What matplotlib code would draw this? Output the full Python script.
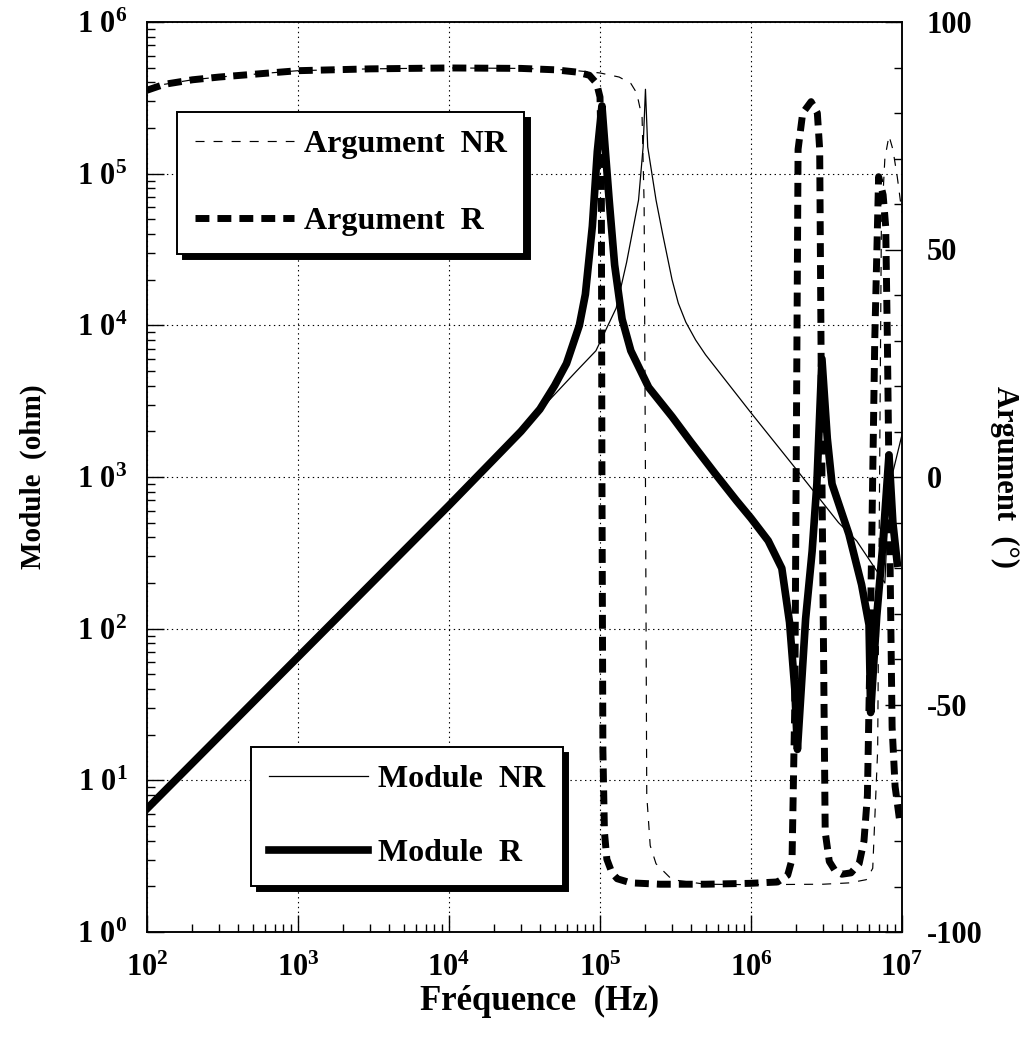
import numpy as np
import matplotlib
matplotlib.use('Agg')
import matplotlib.pyplot as plt
from matplotlib import ticker

plt.rcParams['font.family'] = 'Liberation Serif'
plt.rcParams['font.weight'] = 'bold'
plt.rcParams['axes.labelweight'] = 'bold'
plt.rcParams['mathtext.fontset'] = 'custom'
plt.rcParams['mathtext.rm'] = 'Liberation Serif:bold'
plt.rcParams['mathtext.bf'] = 'Liberation Serif:bold'
plt.rcParams['mathtext.default'] = 'bf'
plt.rcParams['axes.unicode_minus'] = False
plt.rcParams['lines.scale_dashes'] = False

# Module R (ohm) vs frequency (Hz)
mod_r_f = [1e2, 1e3, 1e4, 2e4, 3e4, 4e4, 5e4, 6e4, 7.3e4, 8e4, 8.9e4, 9.6e4,
           1.03e5, 1.08e5, 1.15e5, 1.25e5, 1.4e5, 1.6e5, 2.1e5, 3e5, 4e5,
           5.8e5, 8e5, 1e6, 1.3e6, 1.6e6, 1.8e6, 1.95e6, 2.03e6, 2.3e6,
           2.54e6, 2.73e6, 2.95e6, 3.2e6, 3.44e6, 4.45e6, 5.4e6, 6.05e6,
           6.2e6, 6.8e6, 7.4e6, 8.2e6, 8.7e6, 9.3e6]
mod_r = [6.5, 65, 650, 1320, 2000, 2800, 4000, 5600, 10000, 16000, 45000,
         140000, 280000, 150000, 67000, 25000, 11000, 6800, 3900, 2500, 1700,
         1050, 700, 535, 380, 250, 110, 40, 16, 116,
         324, 900, 6000, 1800, 900, 420, 195, 106,
         28, 120, 323, 1400, 500, 270]

# Module NR
mod_nr_f = [1e2, 1e3, 1e4, 2e4, 3e4, 4.6e4, 7e4, 9.4e4, 1.28e5, 1.5e5, 1.8e5,
            1.93e5, 2.0e5, 2.07e5, 2.35e5, 2.6e5, 3e5, 3.3e5, 3.7e5, 4.3e5,
            5e5, 1e6, 2e6, 3.8e6, 5e6, 6e6, 7e6, 7.7e6, 8.2e6, 1e7]
mod_nr = [6.5, 65, 650, 1310, 1960, 3200, 5000, 6800, 13000, 26000, 67000,
          150000, 360000, 150000, 67000, 40000, 20000, 14000, 10500, 8000,
          6400, 2650, 1120, 500, 380, 290, 230, 200, 845, 1900]

# Argument R (deg)
arg_r_f = [1e2, 1.3e2, 2e2, 3e2, 1e3, 3e3, 1e4, 3e4, 5e4, 7e4, 8.5e4, 9.5e4,
           1.0e5, 1.02e5, 1.03e5, 1.045e5, 1.07e5, 1.11e5, 1.2e5, 1.3e5,
           1.6e5, 2.5e5, 5e5, 1e6, 1.5e6, 1.75e6, 1.87e6, 1.95e6, 2.05e6,
           2.2e6, 2.5e6, 2.75e6, 2.85e6, 2.95e6, 3.1e6, 3.3e6, 3.6e6, 4e6,
           4.6e6, 5.2e6, 5.6e6, 5.9e6, 6.2e6, 6.6e6, 7.0e6, 7.5e6, 7.8e6,
           8.0e6, 8.2e6, 8.6e6, 9.0e6, 9.6e6]
arg_r = [85, 86.3, 87.3, 87.9, 89.3, 89.7, 89.9, 89.8, 89.5, 89, 88.3, 86.5,
         83.5, 70, 0, -60, -78, -84, -87, -88.3,
         -89.2, -89.5, -89.5, -89.3, -89, -87.5, -84, -50, 72,
         80, 82.5, 80, 72, 0, -78, -84.5, -86.5, -87.3,
         -87, -85, -80, -70, -30, 30, 66, 62, 55,
         30, 0, -55, -68, -75]

# Argument NR
arg_nr_f = [1e2, 1.3e2, 2e2, 3e2, 1e3, 3e3, 1e4, 3e4, 5e4, 7e4, 1e5, 1.34e5,
            1.6e5, 1.75e5, 1.9e5, 1.96e5, 2.0e5, 2.04e5, 2.15e5, 2.35e5, 3e5,
            5e5, 1e6, 3e6, 4.5e6, 5.8e6, 6.4e6, 6.9e6, 7.3e6, 7.7e6, 8.2e6,
            8.7e6, 9.3e6, 1e7]
arg_nr = [85, 86.3, 87.3, 87.9, 89.3, 89.7, 89.9, 89.8, 89.6, 89.3, 88.8, 87.9,
          86.5, 84.4, 79, 60, 0, -70, -81, -85, -88.5,
          -89.5, -89.6, -89.5, -89.2, -88.5, -86, -60, 55, 70, 75,
          72, 66, 58]

decade_labels = {0: '1 0$^{0}$', 1: '1 0$^{1}$', 2: '1 0$^{2}$', 3: '1 0$^{3}$',
                 4: '1 0$^{4}$', 5: '1 0$^{5}$', 6: '1 0$^{6}$'}

fig = plt.figure(figsize=(10.21, 10.37), dpi=100)
ax1 = fig.add_axes([147 / 1021, 1 - 932 / 1037, 755 / 1021, 910 / 1037])
ax2 = ax1.twinx()

l_mnr, = ax1.plot(mod_nr_f, mod_nr, color='k', lw=0.9)
l_mr, = ax1.plot(mod_r_f, mod_r, color='k', lw=5.5)
l_anr, = ax2.plot(arg_nr_f, arg_nr, color='k', lw=0.85, ls=(0, (6.5, 6.5)))
l_ar, = ax2.plot(arg_r_f, arg_r, color='k', lw=5, ls=(0, (10, 5.8)))

ax1.set_xscale('log')
ax1.set_yscale('log')
ax1.set_xlim(1e2, 1e7)
ax1.set_ylim(1, 1e6)
ax2.set_ylim(-100, 100)

ax1.xaxis.set_major_locator(ticker.LogLocator(base=10, numticks=10))
ax1.xaxis.set_minor_locator(ticker.LogLocator(base=10, subs=np.arange(2, 10), numticks=20))
ax1.yaxis.set_major_locator(ticker.LogLocator(base=10, numticks=10))
ax1.yaxis.set_minor_locator(ticker.LogLocator(base=10, subs=np.arange(2, 10), numticks=20))
ax1.xaxis.set_major_formatter(ticker.FuncFormatter(lambda v, p: '10$^{%d}$' % round(np.log10(v))))
ax1.xaxis.set_minor_formatter(ticker.NullFormatter())
ax1.yaxis.set_major_formatter(ticker.FuncFormatter(lambda v, p: decade_labels.get(round(np.log10(v)), '')))
ax1.yaxis.set_minor_formatter(ticker.NullFormatter())
ax2.yaxis.set_major_locator(ticker.MultipleLocator(50))
ax2.yaxis.set_minor_locator(ticker.MultipleLocator(10))
ax2.yaxis.set_major_formatter(ticker.FuncFormatter(lambda v, p: '%d' % v))

ax1.grid(which='major', axis='both', color='k', lw=0.8, ls=(0, (1, 2.5)))

for ax in (ax1, ax2):
    ax.tick_params(which='both', direction='in', width=1, labelsize=22)
    ax.tick_params(which='major', length=12)
    ax.tick_params(which='minor', length=6)
    for s in ax.spines.values():
        s.set_linewidth(1.1)
ax1.tick_params(axis='y', pad=14)
ax1.tick_params(axis='x', pad=16)
ax2.tick_params(axis='y', pad=18)

ax1.set_xlabel('Fréquence  (Hz)', fontsize=25, fontweight='bold')
ax1.xaxis.set_label_coords(0.52, -0.058)
ax1.xaxis.label.set_va('top')
ax1.set_ylabel('Module  (ohm)', fontsize=21, fontweight='bold')
ax1.yaxis.set_label_coords(-0.132, 0.5)
ax2.set_ylabel('Argument  (°)', fontsize=22, fontweight='bold', rotation=270, va='bottom')
ax2.yaxis.set_label_coords(1.117, 0.5)

leg_kw = dict(loc='upper left', borderaxespad=0, fontsize=23, frameon=True,
              fancybox=False, framealpha=1, edgecolor='k', borderpad=0.55,
              handlelength=3.1, handletextpad=0.32,
              shadow={'ox': 4, 'oy': -4, 'facecolor': 'k', 'edgecolor': 'k', 'alpha': 1})
leg1 = ax2.legend([l_anr, l_ar], ['Argument  NR', 'Argument  R'],
                  bbox_to_anchor=(0.0397, 0.901), labelspacing=1.5, **leg_kw)
leg1.get_frame().set_linewidth(1.4)
ax2.add_artist(leg1)
leg2 = ax2.legend([l_mnr, l_mr], ['Module  NR', 'Module  R'],
                  bbox_to_anchor=(0.138, 0.203), labelspacing=1.4, **leg_kw)
leg2.get_frame().set_linewidth(1.4)

fig.savefig('out.png', dpi=100)
